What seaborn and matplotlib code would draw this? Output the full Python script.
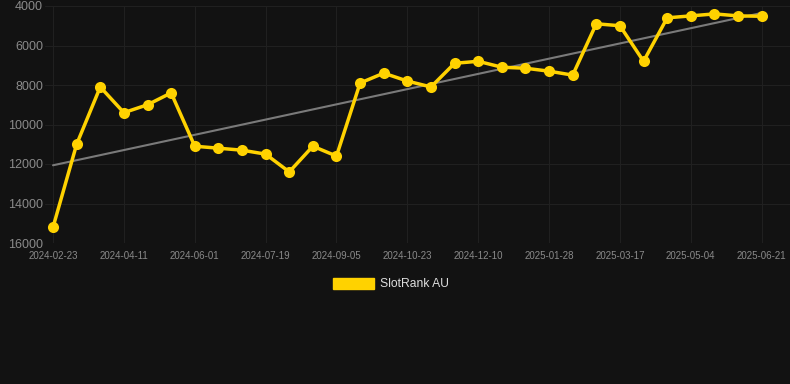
import matplotlib
matplotlib.use("Agg")
import matplotlib.pyplot as plt
import matplotlib.patches as mpatches
import seaborn as sns
import numpy as np
import pandas as pd

tick_labels = ["2024-02-23", "2024-04-11", "2024-06-01", "2024-07-19", "2024-09-05",
               "2024-10-23", "2024-12-10", "2025-01-28", "2025-03-17", "2025-05-04",
               "2025-06-21"]
rank_values = [15200, 11000, 8100, 9400, 9000, 8400, 11100, 11200, 11300, 11500,
               12400, 11100, 11600, 7900, 7400, 7800, 8100, 6900, 6800, 7100,
               7150, 7300, 7500, 4900, 5000, 6800, 4600, 4500, 4400, 4500, 4520]
series_name = "SlotRank AU"

sns.set_theme(style="dark")
plt.rcParams["font.family"] = ["Liberation Sans", "DejaVu Sans"]

bg = "#121212"
df = pd.DataFrame({"idx": np.arange(len(rank_values)), "rank": rank_values})

fig = plt.figure(figsize=(7.9, 3.84), dpi=100, facecolor=bg)
ax = fig.add_axes([45 / 790, 1 - 243 / 384, 1 - 45 / 790, 237 / 384])
ax.set_facecolor(bg)

# trend line (linear regression of the series)
coef = np.polyfit(df["idx"], df["rank"], 1)
trend = np.polyval(coef, df["idx"])
sns.lineplot(x=df["idx"], y=trend, ax=ax, color="#7a7a7a", linewidth=1.5, zorder=2)

sns.lineplot(data=df, x="idx", y="rank", ax=ax, color="#FFD200", linewidth=2.5,
             marker="o", markersize=8, markeredgewidth=0, zorder=3)

ax.set_ylim(16000, 4000)
ax.set_xlim(-0.34, 31.2)
ax.set_yticks([4000, 6000, 8000, 10000, 12000, 14000, 16000])
ax.set_xticks(np.arange(0, len(rank_values), 3))
ax.set_xticklabels(tick_labels)
ax.tick_params(axis="y", colors="#8a8a8a", labelsize=9, length=0, pad=1.5)
ax.tick_params(axis="x", colors="#8a8a8a", labelsize=7, length=0, pad=6)
ax.grid(True, color="#202020", linewidth=0.8)
ax.set_xlabel("")
ax.set_ylabel("")
for s in ax.spines.values():
    s.set_visible(False)
if ax.get_legend():
    ax.get_legend().remove()

handle = mpatches.Patch(color="#FFD200", label=series_name)
leg = fig.legend(handles=[handle], loc="center",
                 bbox_to_anchor=(0.5 - 4.5 / 790, 1 - 284 / 384),
                 frameon=False, handlelength=3.4, handleheight=1.0, fontsize=8.7,
                 labelcolor="#dddddd", handletextpad=0.5)

fig.savefig("out.png", dpi=100, facecolor=bg)
